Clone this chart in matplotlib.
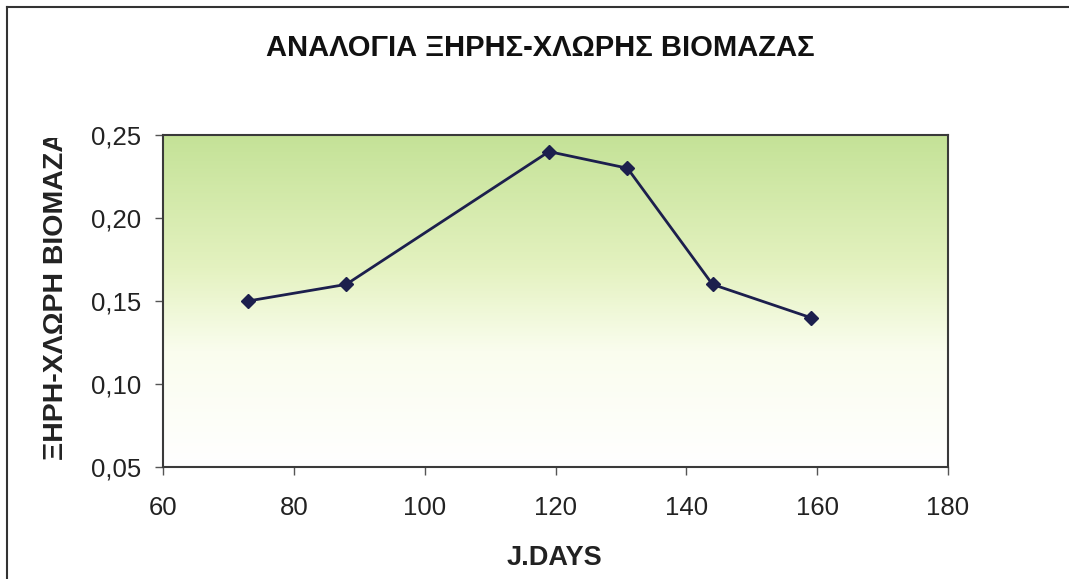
import numpy as np
import matplotlib
matplotlib.use("Agg")
import matplotlib.pyplot as plt
from matplotlib.colors import LinearSegmentedColormap
from matplotlib.lines import Line2D
from matplotlib.transforms import Bbox, TransformedBbox

# ---- data ----
days = [73, 88, 119, 131, 144, 159]
ratio = [0.15, 0.16, 0.24, 0.23, 0.16, 0.14]
x_ticks = [60, 80, 100, 120, 140, 160, 180]
y_ticks = [0.05, 0.10, 0.15, 0.20, 0.25]

title = "ΑΝΑΛΟΓΙΑ ΞΗΡΗΣ-ΧΛΩΡΗΣ ΒΙΟΜΑΖΑΣ"
ylabel = "ΞΗΡΗ-ΧΛΩΡΗ ΒΙΟΜΑΖΑ"
xlabel = "J.DAYS"

plt.rcParams["font.family"] = ["Liberation Sans", "DejaVu Sans"]

W, H = 1069, 579
fig = plt.figure(figsize=(W / 100, H / 100), dpi=100)
fig.patch.set_facecolor("white")

# plot area in pixels: left 163, right 948, top 135, bottom 467
ax = fig.add_axes([163 / W, 1 - 467 / H, (948 - 163) / W, (467 - 135) / H])

# green-to-white vertical gradient background
grad = LinearSegmentedColormap.from_list(
    "bg", [(0.0, "#ffffff"), (0.35, "#fafdee"), (0.6, "#e4f2c0"), (1.0, "#c4e297")]
)
ax.imshow(np.linspace(0, 1, 256).reshape(-1, 1), cmap=grad, aspect="auto",
          extent=[0, 1, 0, 1], transform=ax.transAxes, origin="lower", zorder=0)

ax.plot(days, ratio, color="#1c1f4d", lw=2, marker="D", ms=7,
        markerfacecolor="#1c1f4d", markeredgecolor="#1c1f4d", zorder=3)

ax.set_xlim(60, 180)
ax.set_ylim(0.05, 0.25)
ax.set_xticks(x_ticks)
ax.set_yticks(y_ticks)
ax.set_xticklabels([str(v) for v in x_ticks])
ax.set_yticklabels([f"{v:.2f}".replace(".", ",") for v in y_ticks])
ax.tick_params(axis="both", direction="out", length=6, width=1, color="#555555",
               labelsize=18.5, labelcolor="#222222")
ax.tick_params(axis="x", pad=15)
ax.tick_params(axis="y", pad=10)

for s in ax.spines.values():
    s.set_color("#3a3a3a")
    s.set_linewidth(1.5)

fig.text(540 / W, 1 - 48 / H, title, ha="center", va="center",
         fontsize=21, fontweight="bold", color="#111111")
fig.text(554 / W, 1 - 558 / H, xlabel, ha="center", va="center",
         fontsize=19.5, fontweight="bold", color="#222222")

# y label is cut off by the chart area near the top
yl = fig.text(56 / W, 1 - 295 / H, ylabel, ha="center", va="center",
              rotation=90, fontsize=20.5, fontweight="bold", color="#222222")
yl.set_clip_box(TransformedBbox(Bbox([[0, 0], [1, 1 - 138 / H]]), fig.transFigure))
yl.set_clip_on(True)

# outer chart frame (top and left edges)
fig.add_artist(Line2D([7 / W, 1], [1 - 7 / H, 1 - 7 / H], transform=fig.transFigure,
                      color="#333333", lw=1.5))
fig.add_artist(Line2D([7 / W, 7 / W], [0, 1 - 7 / H], transform=fig.transFigure,
                      color="#333333", lw=1.5))

fig.savefig("out.png", dpi=100)
